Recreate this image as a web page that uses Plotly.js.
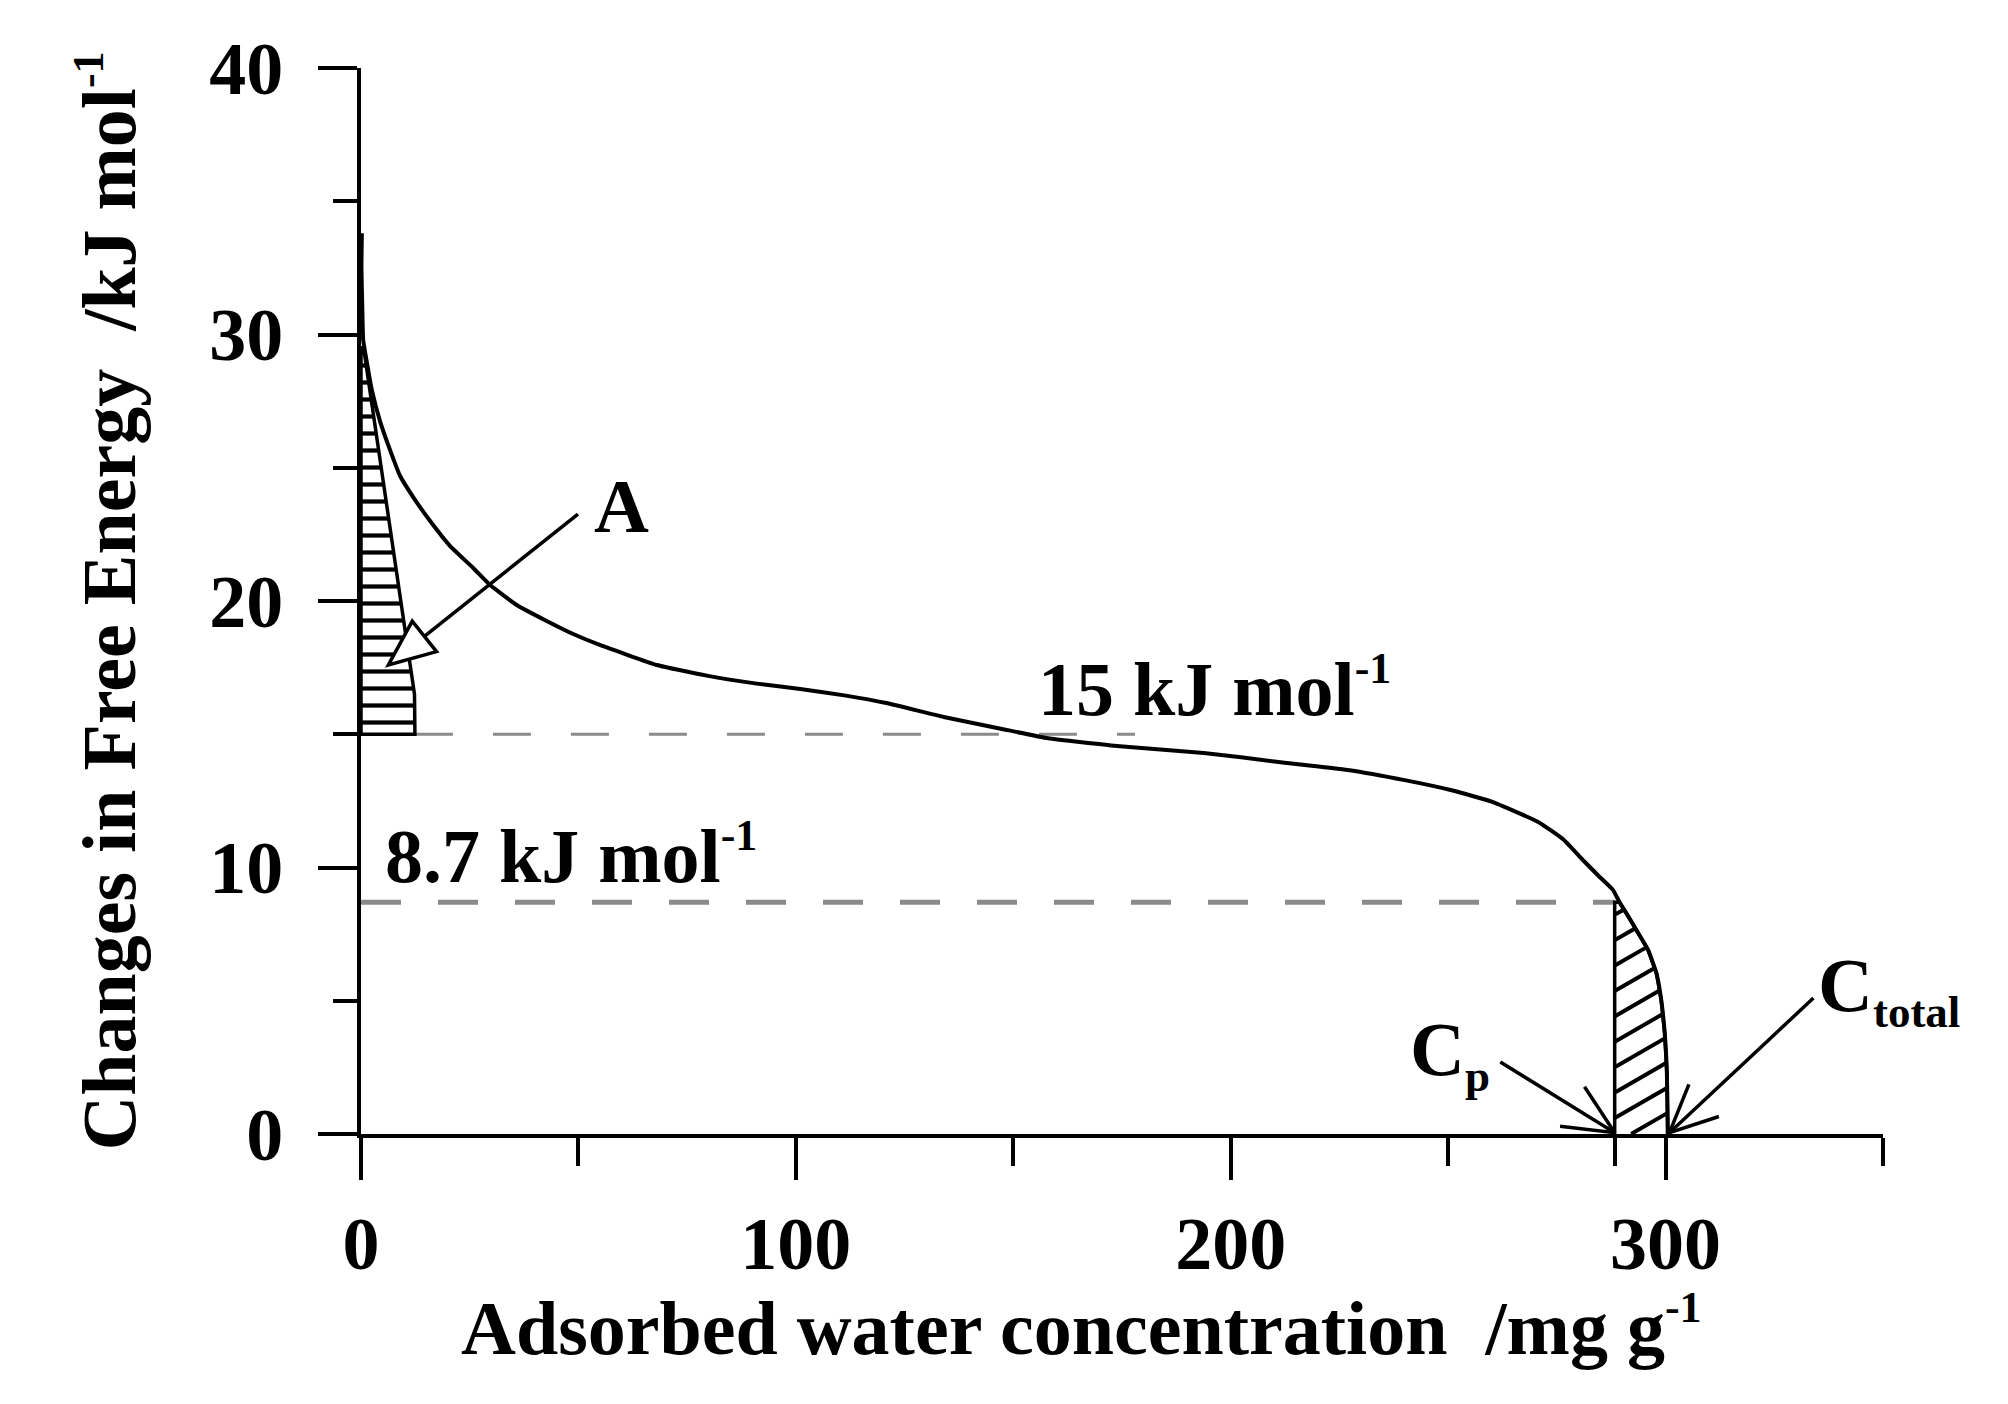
<!DOCTYPE html>
<html><head><meta charset="utf-8">
<script src="https://cdn.plot.ly/plotly-3.0.1.min.js"></script>
<style>html,body{margin:0;padding:0;background:#fff}#chart{width:2008px;height:1404px}</style>
</head><body><div id="chart"></div>
<script>
// ---- data ----
const curveX = [0.2, 0.1, 0.3, 0.5, 1.3, 2.45, 4.37, 6.67, 8.97, 12.0, 15.9, 20.5, 25.8, 29.7, 35.8, 42.7, 48.8, 54.9, 68, 79.5, 91, 101, 111.5, 120.8, 134, 147.4, 158, 173.8, 193.8, 211, 226.9, 240, 250.8, 260, 270.8, 276.5, 281, 284.5, 287.9, 289.4, 291.5, 293.3, 296.0, 297.9, 299.0, 299.8, 300.3, 300.5, 300.5];
const curveY = [33.8, 32.5, 31, 29.8, 29.0, 27.95, 26.75, 25.67, 24.7, 23.9, 23.0, 22.06, 21.24, 20.6, 19.85, 19.25, 18.76, 18.35, 17.6, 17.2, 16.9, 16.7, 16.45, 16.17, 15.65, 15.2, 14.85, 14.56, 14.3, 13.96, 13.66, 13.28, 12.9, 12.47, 11.7, 11.05, 10.28, 9.7, 9.16, 8.7, 8.15, 7.65, 6.9, 6.03, 5.03, 3.79, 2.29, 0.27, 0];
const level15 = 15;            // kJ/mol
const level87 = 8.7;           // kJ/mol
const dash15X = [12.4, 178];
const dash87X = [0, 288.3];
const cP = 288.3;              // mg/g
const cTotal = 300.5;          // mg/g
const regionAX = [0, 12.4, 12.3, 0.6, 0, 0];
const regionAY = [15, 15, 16.5, 29.5, 29.5, 15];
const xTickVals = [0, 100, 200, 300];
const xMinorVals = [50, 150, 250, 288.3, 350];
const yTickVals = [0, 10, 20, 30, 40];
const yMinorVals = [5, 15, 25, 35];
// arrows: [tailX, tailY, tipX, tipY]
const arrowA = [49.9, 23.26, 6.3, 17.6];
const arrowCp = [262, 2.7, 288.3, 0.05];
const arrowCt = [334, 5.1, 300.9, 0.05];

// ---- layout geometry ----
const W = 2008, H = 1404;
const M = {l: 361, r: 125, t: 68, b: 270};
const plotW = W - M.l - M.r, plotH = H - M.t - M.b;
const XR = [0, 350], YR = [0, 40];
const pxX = plotW / (XR[1] - XR[0]), pxY = plotH / (YR[1] - YR[0]);
const FONT = 'Liberation Serif, Times New Roman, serif';

// region B outline: Cp vertical line then the curve down to the axis
const tailX = [], tailY = [];
curveX.forEach((x, i) => { if (x > cP && curveY[i] <= level87) { tailX.push(x); tailY.push(curveY[i]); } });
const regionBX = [cP, cP].concat(tailX), regionBY = [0, level87].concat(tailY);

function curveXAtY(y) {
  const xs = [cP].concat(tailX), ys = [level87].concat(tailY);
  for (let i = 0; i < ys.length - 1; i++) {
    if (y <= ys[i] && y >= ys[i + 1]) {
      const f = (ys[i] - y) / (ys[i] - ys[i + 1] || 1);
      return xs[i] + f * (xs[i + 1] - xs[i]);
    }
  }
  return xs[xs.length - 1];
}

function toPx(x, y) { return [x * pxX, -y * pxY]; }
function toData(px, py) { return [px / pxX, -py / pxY]; }
function vHead(a, len, halfAngleDeg) {
  const [tx, ty] = toPx(a[0], a[1]), [hx, hy] = toPx(a[2], a[3]);
  let dx = hx - tx, dy = hy - ty; const n = Math.hypot(dx, dy); dx /= n; dy /= n;
  const res = [];
  [1, -1].forEach(s => {
    const t = s * halfAngleDeg * Math.PI / 180;
    const rx = dx * Math.cos(t) - dy * Math.sin(t), ry = dx * Math.sin(t) + dy * Math.cos(t);
    res.push(toData(hx - len * rx, hy - len * ry));
  });
  return res;
}
function triHead(a, len, halfW) {
  const [tx, ty] = toPx(a[0], a[1]), [hx, hy] = toPx(a[2], a[3]);
  let dx = hx - tx, dy = hy - ty; const n = Math.hypot(dx, dy); dx /= n; dy /= n;
  const bx = hx - len * dx, by = hy - len * dy;
  return {base: toData(bx, by), c1: toData(bx - halfW * dy, by + halfW * dx), c2: toData(bx + halfW * dy, by - halfW * dx)};
}

const shapes = [];
function seg(x0, y0, x1, y1, w) {
  shapes.push({type: 'line', xref: 'x', yref: 'y', x0, y0, x1, y1, line: {color: 'black', width: w}, layer: 'above'});
}

// hatching of region B: parallel lines rising at 30 degrees, clipped to the region
(function hatchB() {
  const ang = 30 * Math.PI / 180, sp = 22;
  const s = Math.sin(ang), c = Math.cos(ang);
  const xL = cP * pxX, yTop = level87 * pxY;
  const xR = cTotal * pxX;
  const cMin = xL * s - yTop * c, cMax = xR * s;
  for (let k = cMin + sp * 0.5; k < cMax; k += sp) {
    let first = null, last = null;
    const N = 400;
    for (let j = 0; j <= N; j++) {
      const Y = yTop * j / N;
      const X = (k + Y * c) / s;
      const inside = X >= xL && X <= curveXAtY(Y / pxY) * pxX;
      if (inside) { if (!first) first = [X, Y]; last = [X, Y]; }
    }
    if (first && last && Math.hypot(last[0] - first[0], last[1] - first[1]) > 3) {
      seg(first[0] / pxX, first[1] / pxY, last[0] / pxX, last[1] / pxY, 4);
    }
  }
})();

const tA = triHead(arrowA, 46, 19.5);
seg(arrowA[0], arrowA[1], tA.base[0], tA.base[1], 3.5);
shapes.push({type: 'path', xref: 'x', yref: 'y', layer: 'above',
  path: `M${arrowA[2]},${arrowA[3]} L${tA.c1[0]},${tA.c1[1]} L${tA.c2[0]},${tA.c2[1]} Z`,
  fillcolor: 'white', line: {color: 'black', width: 3.5}});
[[arrowCp, 55], [arrowCt, 52]].forEach(([a, L]) => {
  seg(a[0], a[1], a[2], a[3], 3.5);
  vHead(a, L, 25).forEach(p => seg(a[2], a[3], p[0], p[1], 3.5));
});

const traces = [
  {x: dash15X, y: [level15, level15], mode: 'lines', line: {color: '#8a8a8a', width: 3, dash: '38px,40px'}, hoverinfo: 'skip', cliponaxis: false},
  {x: dash87X, y: [level87, level87], mode: 'lines', line: {color: '#8a8a8a', width: 5, dash: '40px,37px'}, hoverinfo: 'skip', cliponaxis: false},
  {x: regionAX, y: regionAY, mode: 'lines', fill: 'toself', fillcolor: 'white',
   fillpattern: {shape: '-', size: 17, solidity: 0.25, fgcolor: 'black', bgcolor: 'white'},
   line: {color: 'black', width: 3.5}, hoverinfo: 'skip', cliponaxis: false},
  {x: regionBX, y: regionBY, mode: 'lines', line: {color: 'black', width: 3.5}, hoverinfo: 'skip', cliponaxis: false},
  {x: curveX, y: curveY, mode: 'lines', line: {color: 'black', width: 4, shape: 'spline', smoothing: 0.4}, hoverinfo: 'skip', cliponaxis: false}
];

const tickFont = {family: FONT, size: 74, color: 'black', weight: 'bold'};
const annFont = (s) => ({family: FONT, size: s, color: 'black', weight: 'bold'});
const SUP = (t) => `<sup><span style="font-size:44px">${t}</span></sup>`;
const SUB = (t) => `<sub><span style="font-size:45px">${t}</span></sub>`;

const layout = {
  width: W, height: H, margin: M, showlegend: false,
  paper_bgcolor: 'white', plot_bgcolor: 'white',
  font: {family: FONT, color: 'black'},
  xaxis: {range: XR, tickmode: 'array', tickvals: xTickVals, ticktext: xTickVals.map(String),
    ticks: 'outside', ticklen: 42, tickwidth: 4, tickcolor: 'black', ticklabelstandoff: 0,
    minor: {tickmode: 'array', tickvals: xMinorVals, ticks: 'outside', ticklen: 28, tickwidth: 4, tickcolor: 'black'},
    showline: true, linewidth: 4, linecolor: 'black', showgrid: false, zeroline: false,
    tickfont: tickFont, automargin: false, fixedrange: true},
  yaxis: {range: YR, tickmode: 'array', tickvals: yTickVals, ticktext: yTickVals.map(String),
    ticks: 'outside', ticklen: 39, tickwidth: 4, tickcolor: 'black', ticklabelstandoff: 20,
    minor: {tickmode: 'array', tickvals: yMinorVals, ticks: 'outside', ticklen: 24, tickwidth: 4, tickcolor: 'black'},
    showline: true, linewidth: 4, linecolor: 'black', showgrid: false, zeroline: false,
    tickfont: tickFont, automargin: false, fixedrange: true,
    title: {text: 'Changes in Free Energy \u00a0/kJ mol' + SUP('-1'), font: annFont(76), standoff: 50}},
  shapes: shapes,
  annotations: [
    {xref: 'paper', yref: 'paper', x: (1081 - M.l) / plotW, y: (1134 - 1327) / plotH, xanchor: 'center', yanchor: 'middle',
     text: 'Adsorbed water concentration \u00a0/mg g' + SUP('-1'), showarrow: false, font: annFont(76)},
    {x: 60, y: 23.56, xanchor: 'center', yanchor: 'middle', text: 'A', showarrow: false, font: annFont(76)},
    {x: 155.2, y: 16.77, xanchor: 'left', yanchor: 'middle', text: '15 kJ mol' + SUP('-1'), showarrow: false, font: annFont(76)},
    {x: 5.06, y: 10.5, xanchor: 'left', yanchor: 'middle', text: '8.7 kJ mol' + SUP('-1'), showarrow: false, font: annFont(76)},
    {x: 240.8, y: 3.0, xanchor: 'left', yanchor: 'middle', text: 'C' + SUB('p'), showarrow: false, font: annFont(76)},
    {x: 334.7, y: 5.4, xanchor: 'left', yanchor: 'middle', text: 'C' + SUB('total'), showarrow: false, font: annFont(76)}
  ]
};

Plotly.newPlot('chart', traces, layout, {staticPlot: true, displayModeBar: false});
</script></body></html>
